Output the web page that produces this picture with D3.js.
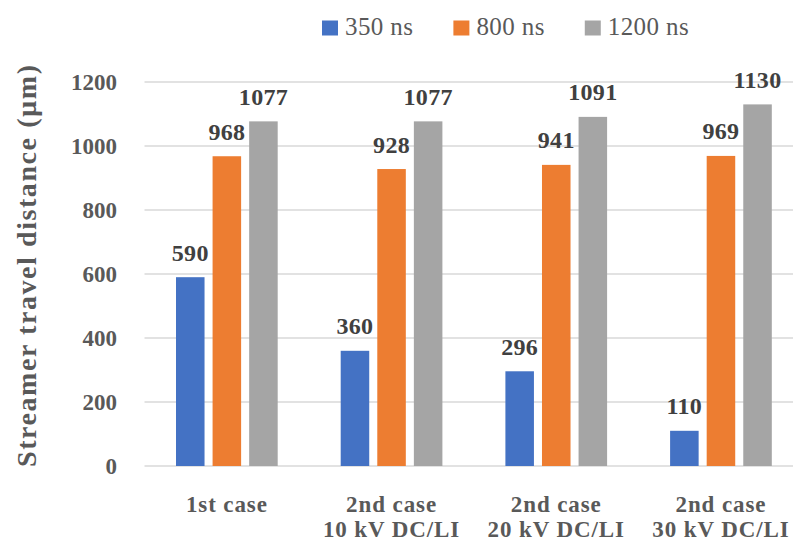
<!DOCTYPE html>
<html>
<head>
<meta charset="utf-8">
<script src="https://cdn.jsdelivr.net/npm/d3@7/dist/d3.min.js"></script>
<style>
  html, body { margin: 0; padding: 0; background: #fff; }
  svg { display: block; }
  text { font-family: "Liberation Serif", "DejaVu Serif", serif; }
</style>
</head>
<body>
<svg id="chart" width="793" height="550"></svg>
<script>
// Streamer travel distance per case, at three time instants
const categories = ["1st case", "2nd case\n10 kV DC/LI", "2nd case\n20 kV DC/LI", "2nd case\n30 kV DC/LI"];
const seriesNames = ["350 ns", "800 ns", "1200 ns"];
const values350 = [590, 360, 296, 110];
const values800 = [968, 928, 941, 969];
const values1200 = [1077, 1077, 1091, 1130];
const yTicks = [0, 200, 400, 600, 800, 1000, 1200];
const yTitle = "Streamer travel distance (µm)";

const colors = ["#4472C4", "#ED7D31", "#A5A5A5"];
const seriesValues = [values350, values800, values1200];

const svg = d3.select("#chart");
const plot = { left: 144.5, right: 803.3, top: 82, bottom: 466 };

const y = d3.scaleLinear().domain([0, 1200]).range([plot.bottom, plot.top]);
const x0 = d3.scaleBand().domain(categories).range([plot.left, plot.right]).padding(0);
const x1 = d3.scaleBand().domain(seriesNames)
  .range([31.5, x0.bandwidth() - 31.5]).paddingInner(0.22).paddingOuter(0);

// Horizontal gridlines
svg.append("g").selectAll("line").data(yTicks).join("line")
  .attr("x1", plot.left).attr("x2", plot.right)
  .attr("y1", d => y(d)).attr("y2", d => y(d))
  .attr("stroke", "#D9D9D9").attr("stroke-width", 1.3);

// Y axis tick labels
const yAxis = d3.axisLeft(y).tickValues(yTicks).tickFormat(d3.format("d")).tickSize(0).tickPadding(0);
const gy = svg.append("g").attr("transform", "translate(117,0)").call(yAxis);
gy.select(".domain").remove();
gy.selectAll("text")
  .attr("fill", "#595959").attr("font-size", 23).attr("font-weight", "bold")
  .attr("font-family", "Liberation Serif, serif").attr("dy", "0.34em");

// Y axis title
svg.append("text")
  .attr("transform", "translate(36,266) rotate(-90)")
  .attr("text-anchor", "middle")
  .attr("font-size", 28).attr("font-weight", "bold").attr("fill", "#595959")
  .attr("textLength", 402).attr("lengthAdjust", "spacing")
  .text(yTitle);

// Bars and value labels
const rows = categories.map((c, i) => ({ cat: c, vals: seriesNames.map((s, j) => ({ s, j, v: seriesValues[j][i] })) }));
const groups = svg.append("g").selectAll("g").data(rows).join("g")
  .attr("transform", d => `translate(${x0(d.cat)},0)`);

groups.selectAll("rect").data(d => d.vals).join("rect")
  .attr("x", d => x1(d.s)).attr("width", x1.bandwidth())
  .attr("y", d => y(d.v)).attr("height", d => y(0) - y(d.v))
  .attr("fill", d => colors[d.j]);

groups.selectAll("text.val").data(d => d.vals).join("text")
  .attr("class", "val")
  .attr("x", d => x1(d.s) + x1.bandwidth() / 2)
  .attr("y", d => y(d.v) - 16.5)
  .attr("text-anchor", "middle")
  .attr("font-size", 24).attr("font-weight", "bold").attr("fill", "#404040")
  .attr("letter-spacing", 0.3)
  .text(d => d.v);

// Category labels (two lines where needed)
const xLabels = svg.append("g").selectAll("text").data(categories).join("text")
  .attr("x", d => x0(d) + x0.bandwidth() / 2)
  .attr("y", 512)
  .attr("text-anchor", "middle")
  .attr("font-size", 23).attr("font-weight", "bold").attr("fill", "#595959")
  .attr("letter-spacing", 0.9);
xLabels.selectAll("tspan").data(d => d.split("\n")).join("tspan")
  .attr("x", function () { return d3.select(this.parentNode).attr("x"); })
  .attr("dy", (d, i) => i === 0 ? 0 : 25)
  .text(d => d);

// Legend
const legend = svg.append("g");
let lx = 322;
seriesNames.forEach((name, i) => {
  legend.append("rect").attr("x", lx).attr("y", 20.5).attr("width", 16).attr("height", 15)
    .attr("fill", colors[i]);
  const t = legend.append("text").attr("x", lx + 23).attr("y", 35)
    .attr("font-size", 25).attr("fill", "#595959").attr("letter-spacing", 0.4)
    .text(name);
  lx += 23 + t.node().getComputedTextLength() + 40;
});
</script>
</body>
</html>
